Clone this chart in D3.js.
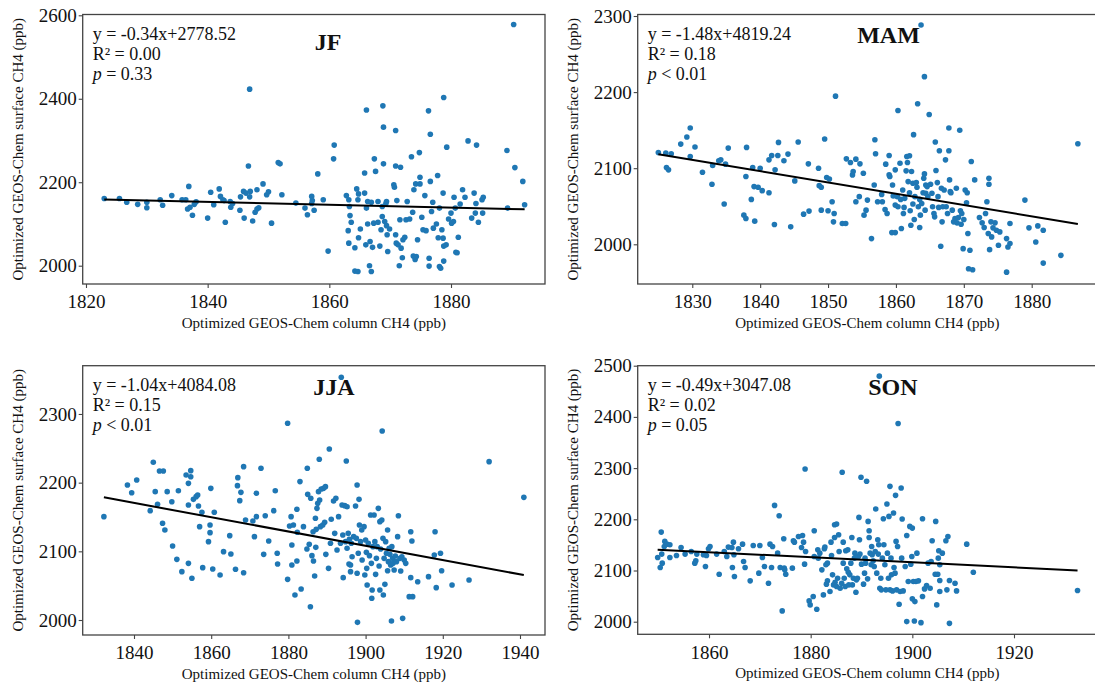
<!DOCTYPE html>
<html lang="en">
 <head>
 <meta http-equiv="Content-Type" content="text/html; charset=UTF-8">
        <title>Optimized GEOS-Chem surface vs column CH4</title>
        <script type="text/javascript" src="https://unpkg.com/d3@7/dist/d3.min.js"></script>
        <style>
          body { margin: 0; background: #fff; }
          text { font-family: "Liberation Serif", "Times New Roman", serif; fill: #111; }
        </style>
 </head>
 <body>
        <script type="text/javascript">

          var seasons = ["JF", "MAM", "JJA", "SON"];
          var slopes = [-0.34, -1.48, -1.04, -0.49];
          var intercepts = [2778.52, 4819.24, 4084.08, 3047.08];
          var r2Labels = ["0.00", "0.18", "0.15", "0.02"];
          var pLabels = [" = 0.33", " < 0.01", " < 0.01", " = 0.05"];

          var xTicks = [
            [1820, 1840, 1860, 1880],
            [1830, 1840, 1850, 1860, 1870, 1880],
            [1840, 1860, 1880, 1900, 1920, 1940],
            [1860, 1880, 1900, 1920]
          ];
          var yTicks = [
            [2000, 2200, 2400, 2600],
            [2000, 2100, 2200, 2300],
            [2000, 2100, 2200, 2300],
            [2000, 2100, 2200, 2300, 2400, 2500]
          ];

          var jfPoints = [
            [1823.0,2161],[1825.5,2161],[1826.7,2152],[1828.5,2147],[1830,2152],[1830,2139],[1832.2,2158],[1832.6,2145],
            [1834.1,2168],[1835.8,2158],[1836.4,2158],[1836.9,2190],[1836.7,2136],[1837.1,2140],[1837.5,2121],[1838.1,2153],
            [1837.8,2147],[1840,2114],[1840.5,2176],[1841,2146],[1841.9,2184],[1842.1,2166],[1842.5,2158],[1842.9,2104],
            [1842.7,2156],[1843.7,2154],[1843.8,2140],[1844.1,2149],[1845.3,2133],[1845.4,2165],[1845.9,2178],[1846,2114],
            [1846.3,2174],[1846.7,2239],[1846.9,2423],[1846.9,2165],[1847,2178],[1847.4,2107],[1847.8,2128],[1848.1,2136],
            [1848.4,2139],[1848.1,2182],[1849.1,2196],[1849.7,2170],[1850,2177],[1850.5,2102],[1851.6,2247],[1851.9,2244],
            [1852.2,2170],[1854.5,2150],[1856,2138],[1856.4,2122],[1857.1,2166],[1857.2,2156],[1857.1,2149],[1857.5,2133],
            [1858.1,2220],[1859,2158],[1859.8,2035],[1860.8,2289],[1860.7,2256],[1862.8,2168],[1863.2,2158],[1863.3,2142],
            [1863.4,2120],[1863.1,2084],[1863.2,2054],[1863.6,2104],[1864.2,2043],[1864.2,1987],[1864.7,1986],[1864.5,2184],
            [1864.7,2158],[1864.8,2067],[1865.1,2088],[1864.8,2172],[1865.8,2174],[1865.8,2222],[1866.1,2373],[1866.1,2138],
            [1866.3,2154],[1866.3,2100],[1866,2050],[1866.7,2058],[1866.6,2000],[1866.9,1986],[1866.9,2152],[1867.1,2044],
            [1867.4,2256],[1867.6,2226],[1867.3,2102],[1868,2104],[1868,2154],[1868.3,2047],[1868.5,2086],[1868.7,2142],
            [1868.7,2118],[1868.8,2383],[1868.9,2332],[1868.9,2244],[1869.1,2106],[1869.4,2154],[1869.4,2096],[1869.6,2034],
            [1869.5,2074],[1869.3,2149],[1869.9,2088],[1870.6,2194],[1870.7,2188],[1870.9,2324],[1870.9,2239],[1871.1,2156],
            [1870.9,2074],[1871,2054],[1871.3,2050],[1871.5,2000],[1871.7,2236],[1871.6,2110],[1871.8,2042],[1872,2019],
            [1872.1,2062],[1872.4,2068],[1872.6,2110],[1872.8,2154],[1873.2,2112],[1873.5,2261],[1873.7,2128],[1873.8,2023],
            [1874.1,2015],[1874.3,2022],[1873.9,2182],[1874.2,2196],[1874.8,2271],[1874.9,2196],[1874.9,2212],[1874.5,2062],
            [1875.2,2116],[1875.4,2086],[1875.7,2168],[1875.9,2084],[1876.3,2371],[1876.4,2018],[1876.4,1999],[1876.6,2315],
            [1876.6,2202],[1876.8,2130],[1877,2152],[1877.1,2090],[1877.6,2100],[1877.8,2216],[1877.9,2067],[1878.1,2138],
            [1878.1,1998],[1878.3,1994],[1878.5,2086],[1878.7,2174],[1878.8,2047],[1878.8,2403],[1878.8,2011],[1878.7,2066],
            [1879.3,2284],[1879.2,2050],[1879.6,2112],[1880,2126],[1880.1,2102],[1880.4,2106],[1880.5,2164],[1880.7,2138],
            [1880.8,2032],[1881,2031],[1881.2,2068],[1881.5,2148],[1881.9,2182],[1882.3,2164],[1882.8,2299],[1883.4,2114],
            [1883.8,2174],[1884,2126],[1884.2,2289],[1884.1,2149],[1884.5,2104],[1885.1,2158],[1885.3,2164],[1885.2,2126],
            [1889.2,2276],[1889.3,2138],[1890.3,2578],[1890.5,2235],[1891.8,2202],[1892.1,2146]
          ];

          var mamPoints = [
            [1825,2120.7],[1826.1,2119.8],[1826.2,2100.9],[1826.5,2097.8],[1826.9,2118.9],[1828.3,2131.7],[1829.2,2141],
            [1829.7,2152.9],[1829.7,2115.4],[1830.4,2127.8],[1831.5,2094.7],[1832.9,2078.9],[1833,2103.5],[1833.9,2109.7],
            [1834.2,2111],[1834.7,2052.9],[1834.9,2105.3],[1835.3,2126.4],[1837.6,2038.3],[1837.9,2033.9],[1837.9,2089],
            [1838,2127.3],[1838.7,2059],[1838.9,2100.9],[1839.1,2075.8],[1839.2,2030.4],[1839.7,2074.9],[1840,2100],
            [1840.3,2070.5],[1841.3,2067.8],[1841.3,2111],[1841.7,2116.7],[1842.1,2026],[1842.2,2097.8],[1842.6,2116.7],
            [1842.7,2133.9],[1843.5,2109.7],[1844.1,2118.5],[1844.5,2022.9],[1845.1,2083.3],[1845.6,2134.4],[1846.4,2039.6],
            [1847.1,2105.7],[1847.2,2043.6],[1848.6,2100],[1848.7,2077.1],[1849,2074.9],[1849,2044.9],[1849.5,2138.3],
            [1849.8,2087.7],[1850,2044],[1850.2,2085.9],[1850.6,2055.9],[1850.9,2040.5],[1850.8,2029.5],[1851.1,2194.7],
            [1852.1,2027.3],[1852.6,2027.3],[1852.7,2112.3],[1853.3,2107.5],[1853.6,2091.2],[1853.7,2095.6],[1854.1,2111.9],
            [1854.1,2055.9],[1854.6,2062.6],[1854.7,2105.7],[1855.2,2093.4],[1855.3,2038.3],[1855.6,2044.9],[1855.8,2058.1],
            [1856.4,2007.5],[1856.8,2078],[1856.9,2137.4],[1857,2118.9],[1857.3,2055.9],[1857.9,2065.6],[1858,2055.9],
            [1858.4,2045.8],[1858.5,2105.3],[1858.7,2040.5],[1859,2116.7],[1859,2091.2],[1859.1,2089],[1859.4,2015.4],
            [1859.5,2078],[1859.6,2063.4],[1859.9,2051.5],[1859.9,2015.4],[1859.9,2097.8],[1860.2,2062.6],[1860.3,2175.8],
            [1860.3,2049.3],[1860.6,2106.6],[1860.7,2059],[1860.8,2020.7],[1861,2071.4],[1861.1,2040.5],[1861.2,2048.5],
            [1861.3,2060.4],[1861.5,2096.5],[1861.6,2115.4],[1861.7,2107.5],[1861.8,2082.4],[1862,2116.3],[1862,2067.8],
            [1862.1,2044.1],[1862.2,2025.1],[1862.3,2095.6],[1862.5,2080.2],[1862.5,2052.9],[1862.6,2144.1],[1862.7,2032.6],
            [1862.8,2062.6],[1863,2081.1],[1863.1,2074.9],[1863.2,2184.6],[1863.3,2049.3],[1863.5,2059],[1863.5,2022],
            [1863.6,2038.3],[1863.7,2288.1],[1863.8,2053.7],[1864,2067.8],[1864.1,2086.8],[1864.2,2220.3],[1864.2,2092.5],
            [1864.3,2044.9],[1864.4,2078],[1864.4,2067],[1864.6,2075.8],[1864.7,2062.6],[1864.9,2170.5],[1865.1,2078.9],
            [1865.3,2067],[1865.4,2049.3],[1865.6,2040.5],[1865.7,2036.1],[1865.8,2134.4],[1865.9,2096.9],[1866.1,2081.1],
            [1866.2,2062.6],[1866.3,2048.5],[1866.4,2122.9],[1866.6,1997.4],[1866.7,2073.6],[1866.8,2029.5],[1866.9,2049.3],
            [1867.1,2071.4],[1867.3,2111],[1867.4,2049.3],[1867.6,2040.5],[1867.8,2152.9],[1867.8,2122.9],[1867.9,2084.6],
            [1868,2069.2],[1868.1,2067.8],[1868.3,2044.9],[1868.5,2029.5],[1868.7,2033.9],[1868.9,2073.6],[1869,2028.2],
            [1869.2,2035.2],[1869.4,2149.8],[1869.5,2044.1],[1869.6,2026.4],[1869.7,2040.5],[1869.9,1994.3],[1870,2032.6],
            [1870.2,2071.4],[1870.4,2054.6],[1870.5,2067.8],[1870.6,2014.1],[1870.7,1967.8],[1870.9,1992.1],[1871.1,2108.8],
            [1871.3,1966.5],[1871.6,2084.6],[1872.3,2035.2],[1872.7,2028.2],[1873,2022],[1873.2,2040.5],[1873.4,2055.9],
            [1873.6,2014.1],[1873.7,2086.8],[1873.7,2078.9],[1873.8,1993],[1874,2029.5],[1874.1,2009.7],[1874.3,2021.6],
            [1874.6,2028.2],[1874.8,2018.5],[1875.1,1998.7],[1875.3,2016.3],[1876.3,2007.5],[1876.5,1996.5],[1876.3,1963.4],
            [1876.8,2027.3],[1876.8,2000.9],[1879,2058.1],[1879.6,2021.6],[1880.6,2003.1],[1880.9,2024.2],[1881.7,2018.5],
            [1881.7,1975.3],[1884.3,1985.5],[1886.8,2132.2]
          ];

          var jjaPoints = [
            [1832.2,2150.5],[1838.3,2196.6],[1839.4,2185.4],[1840.7,2203.9],[1844.2,2159.2],[1845,2229.6],[1845.5,2186.9],
            [1846.1,2168.4],[1846.6,2217],[1847.6,2217],[1847.4,2140.8],[1848,2131.1],[1848.6,2186.9],[1849.8,2172.3],
            [1850,2107.8],[1851.1,2088.3],[1851.5,2188.3],[1852.4,2070.4],[1853.5,2211.2],[1854.1,2199],[1854.1,2167.5],
            [1854.1,2082.5],[1854.7,2217.5],[1854.7,2208.7],[1855,2060.7],[1855.4,2175.7],[1856.1,2179.6],[1856.5,2182],
            [1856.7,2166],[1857,2135.9],[1857.6,2156.8],[1857.8,2076.2],[1859.3,2114.1],[1859.7,2127.2],[1859.7,2138.3],
            [1859.9,2191.7],[1860.4,2074.3],[1860.8,2156.8],[1862.3,2065.5],[1863.2,2099.5],[1864.8,2122.8],[1865.1,2096.1],
            [1866.3,2073.8],[1866.8,2195.6],[1866.9,2207.3],[1867.4,2173.8],[1867.7,2185.9],[1868.4,2068.9],[1868.4,2223.3],
            [1868.9,2145.6],[1870.8,2144.2],[1871.2,2121.4],[1871.7,2184.5],[1871.7,2150.5],[1872.9,2220.9],[1873.6,2095.6],
            [1874,2151.9],[1874.9,2115],[1876.2,2159.2],[1876.6,2188.3],[1877.1,2097.1],[1877.2,2081.6],[1879.8,2286.4],
            [1879.8,2059.2],[1880.3,2136.9],[1880.7,2150.5],[1880.9,2109.2],[1880.9,2080.1],[1881.3,2138.3],[1881.7,2036.4],
            [1882.2,2161.2],[1882.2,2085.9],[1882.3,2127.7],[1883,2201.5],[1883.3,2045.1],[1883.9,2135.9],[1884.8,2103.4],
            [1884.9,2220.9],[1885,2183],[1885.4,2110.2],[1885.7,2019.4],[1885.8,2177.2],[1886.1,2093.7],[1886.4,2128.6],
            [1886.5,2085.9],[1886.8,2064.1],[1887,2148.1],[1887.1,2105.8],[1887.2,2132],[1887.4,2162.6],[1887.6,2169.9],
            [1887.8,2186.9],[1888,2234],[1888.1,2174.8],[1888.3,2135.9],[1888.5,2190.8],[1888.9,2138.3],[1889.1,2191.7],
            [1889.4,2142.2],[1889.6,2194.2],[1889.7,2095.6],[1890.4,2075.2],[1890.6,2249],[1890.9,2111.7],[1891.1,2146.6],
            [1891.7,2173.3],[1892,2126.2],[1892.3,2177.2],[1892.6,2101.9],[1893,2150.5],[1893.5,2111.7],[1893.7,2353.4],
            [1893.9,2167.5],[1894.1,2123.8],[1894.2,2061.7],[1894.6,2166.5],[1894.8,2114.1],[1895,2231.6],[1895.2,2165],
            [1895.2,2104.4],[1895.5,2126.2],[1895.7,2081.6],[1895.8,2117.5],[1896.1,2080.1],[1896.1,2070.4],[1896.3,2111.7],
            [1896.5,2092.2],[1896.9,2121.4],[1897.4,2166],[1897.6,2118.9],[1897.8,2196.6],[1897.8,2068],[1897.9,1996.6],
            [1898.1,2097.1],[1898.3,2175.7],[1898.4,2138.3],[1898.7,2114.1],[1899,2131.1],[1899.1,2087.4],[1899.6,2135.9],
            [1899.8,2065.5],[1900,2116.5],[1900.2,2098.5],[1900.3,2075.2],[1900.4,2051],[1900.7,2111.7],[1901,2093.7],
            [1901.3,2152.9],[1901.5,2082.5],[1901.6,2031.6],[1901.7,2043.7],[1901.9,2106.8],[1902.2,2152.9],[1902.4,2114.1],
            [1902.6,2066.5],[1902.8,2089.8],[1903,2106.8],[1903.3,2162.6],[1903.5,2078.6],[1903.7,2043.7],[1903.7,2143.2],
            [1903.9,2103.4],[1904.2,2145.6],[1904.3,2275.2],[1904.5,2118.9],[1904.6,2036.4],[1904.8,2089.8],[1905,2051.9],
            [1905.2,2114.1],[1905.4,2097.1],[1905.7,2131.1],[1905.7,2071.8],[1905.9,2085],[1906.1,2104.4],[1906.3,2095.6],
            [1906.5,2080.1],[1906.7,1998.5],[1906.8,2106.8],[1907,2089.8],[1907.1,2082.5],[1907.4,2072.8],[1907.7,2093.2],
            [1908,2085],[1908.3,2121.4],[1908.5,2151.9],[1908.9,2089.8],[1909.1,2071.4],[1909.4,2092.2],[1909.6,2002.4],
            [1910,2087.4],[1910.4,2082.5],[1911.3,2034],[1911.7,2061.7],[1911.7,2128.6],[1912,2115],[1912.2,2034],
            [1913.5,2055.8],[1916.3,2063.1],[1917.8,2094.7],[1918,2128.6],[1918.3,2047.1],[1919.4,2097.1],[1919.7,2071.8],
            [1922.4,2051],[1926.8,2058.3],[1932,2230.6],[1941,2178.6]
          ];

          var sonPoints = [
            [1849.9,2125.4],[1850.4,2105.9],[1850.6,2175],[1850.7,2132],[1850.8,2114.4],[1851.2,2147],[1851.3,2156.8],
            [1851.7,2151.5],[1852.3,2150.2],[1852.3,2125.4],[1853.6,2129.4],[1854.5,2145],[1855.3,2132],[1856.5,2137.2],
            [1857.2,2114.4],[1857.4,2118.9],[1857.6,2132],[1858.9,2130.7],[1859.3,2107.8],[1859.5,2129.4],[1859.9,2142.4],
            [1860.2,2147],[1861.5,2132],[1862,2092.8],[1863,2137.2],[1863.5,2127.4],[1863.8,2145.7],[1864.5,2145],
            [1864.6,2105.9],[1864.8,2155.4],[1864.9,2130.7],[1865,2088.3],[1865.8,2142.4],[1866.6,2151.5],[1866.8,2117.6],
            [1867.1,2105.9],[1868.1,2079.8],[1868.7,2148.9],[1869.8,2094.8],[1870,2148.9],[1870.5,2125.4],[1870.9,2107.8],
            [1871.7,2075.2],[1872,2151.5],[1872.3,2105.9],[1872.5,2147],[1872.9,2227.2],[1873.5,2133.9],[1873.8,2207],
            [1874,2105.9],[1874.4,2021.1],[1874.7,2162],[1874.8,2104.6],[1874.9,2101.3],[1875.1,2092.8],[1876.4,2104.6],
            [1876.6,2158.1],[1876.8,2155.4],[1877.6,2166.5],[1878.2,2145],[1878.4,2168.5],[1878.6,2155.4],[1878.8,2112.4],
            [1878.9,2298.3],[1879,2137.2],[1879.7,2040.6],[1879.9,2032.8],[1880.5,2049.1],[1880.7,2177.6],[1880.7,2127.4],
            [1881.2,2024.3],[1881.4,2140.4],[1881.5,2124.1],[1881.8,2133.9],[1882.2,2101.3],[1882.5,2052.4],[1882.7,2142.4],
            [1882.8,2145.7],[1883,2111.1],[1883.3,2079.8],[1883.8,2058.9],[1884,2155.4],[1884.5,2071.9],[1884.7,2189.4],
            [1883.1,2073.3],[1883.3,2114.4],[1884.1,2129.4],[1884.3,2091.5],[1884.7,2164.6],[1884.8,2077.2],[1885.1,2190.7],
            [1885.1,2068.7],[1885.3,2085],[1885.5,2169.8],[1885.6,2137.2],[1885.8,2065.4],[1886.1,2075.2],[1886.2,2291.8],
            [1886.4,2114.4],[1886.4,2155.4],[1886.6,2085],[1886.8,2068.7],[1886.9,2138.5],[1887.1,2103.3],[1887.3,2140.4],
            [1887.4,2096.7],[1887.5,2071.9],[1887.7,2091.5],[1887.9,2114.4],[1888.1,2164.6],[1888.2,2071.9],[1888.4,2085],
            [1888.6,2124.1],[1888.7,2133.9],[1888.9,2057.6],[1889,2081.7],[1889.2,2085],[1889.4,2127.4],[1889.5,2203.7],
            [1889.6,2160],[1889.7,2132],[1889.9,2282],[1890,2112.4],[1890.4,2073.3],[1890.6,2094.8],[1890.7,2124.1],
            [1890.8,2114.4],[1891,2274.2],[1891.2,2083.7],[1891.3,2195.9],[1891.5,2164.6],[1891.5,2177.6],[1891.7,2133.9],
            [1891.9,2111.1],[1892,2147],[1892.1,2130.7],[1892.3,2118.9],[1892.5,2107.8],[1892.7,2137.2],[1892.8,2220],
            [1893,2094.8],[1893.2,2160],[1893.3,2132],[1893.4,2150.2],[1893.5,2479.6],[1893.6,2065.4],[1893.8,2085],
            [1893.9,2062.2],[1894.1,2124.1],[1894.3,2201.1],[1894.4,2150.2],[1894.6,2111.1],[1894.8,2062.2],[1895,2229.8],
            [1895.1,2133.9],[1895.3,2085],[1895.4,2205.7],[1895.6,2264.4],[1895.6,2062.2],[1895.8,2124.1],[1895.9,2091.5],
            [1896.1,2060.2],[1896.3,2212.2],[1896.4,2105.9],[1896.6,2094.8],[1896.7,2246.8],[1896.8,2156.8],[1896.9,2062.2],
            [1897.1,2147],[1897.2,2387],[1897.4,2034.1],[1897.6,2058.9],[1897.8,2261.1],[1897.9,2124.1],[1898,2200.5],
            [1898.2,2060.2],[1898.6,2107.8],[1898.9,2168.5],[1898.9,2000.2],[1899.2,2078.5],[1899.5,2186.1],[1899.7,2112.4],
            [1899.9,2127.4],[1900,2182.8],[1900,2044.6],[1900.2,2078.5],[1900.4,2001.5],[1900.5,2039.3],[1900.7,2078.5],
            [1900.9,2133.9],[1901.2,2079.8],[1901.7,1998.2],[1902,2201.1],[1902,2049.1],[1902.4,2064.1],[1902.8,2070.6],
            [1903.1,2114.4],[1903.5,2065.4],[1903.7,2117.6],[1903.9,2158.1],[1904.5,2092.8],[1904.6,2195.9],[1904.8,2032.8],
            [1905,2092.8],[1905.1,2124.1],[1905.2,2138.5],[1905.4,2111.1],[1905.4,2058.9],[1905.4,2080.5],[1905.9,2133.9],
            [1906.6,2158.1],[1906.8,2062.2],[1907,2166.5],[1907.3,1996.8],[1907.3,2080.5],[1908.4,2075.2],[1908.7,2060.2],
            [1910.7,2151.5],[1912,2096.7],[1932.5,2060.9]
          ];

          var allPoints = [jfPoints, mamPoints, jjaPoints, sonPoints];

          // frame boxes in pixels and the axis ranges
          var panels = [
            { left: 82.7, top: 14.5, width: 462.3, height: 269.5, xDomain: [1819.46, 1895.45], yDomain: [1956.15, 2601.9], titleAt: [232, 35.5] },
            { left: 637.7, top: 14.5, width: 459.3, height: 269.5, xDomain: [1821.96, 1889.62], yDomain: [1947.83, 2301.97], titleAt: [219.5, 28.5] },
            { left: 82.7, top: 365.7, width: 462.3, height: 269.3, xDomain: [1826.71, 1946.48], yDomain: [1978.16, 2370.3], titleAt: [230.6, 29.3] },
            { left: 637.7, top: 365.7, width: 459.3, height: 268.6, xDomain: [1845.97, 1936.33], yDomain: [1975.4, 2500], titleAt: [230.5, 29.3] }
          ];

          var svg = d3.select("body")
                      .append("svg")
                      .attr("width", 1095)
                      .attr("height", 686)
                      .style("display", "block");

          svg.append("rect").attr("width", 1095).attr("height", 686).attr("fill", "#fff");

          panels.forEach(function(p, i) {
            var g = svg.append("g")
                       .attr("transform", "translate(" + p.left + "," + p.top + ")");

            var x = d3.scaleLinear().domain(p.xDomain).range([0, p.width]);
            var y = d3.scaleLinear().domain(p.yDomain).range([p.height, 0]);

            var xAxis = g.append("g")
                         .attr("transform", "translate(0," + p.height + ")")
                         .call(d3.axisBottom(x).tickValues(xTicks[i]).tickFormat(d3.format("d")).tickSize(4).tickPadding(7));
            var yAxis = g.append("g")
                         .call(d3.axisLeft(y).tickValues(yTicks[i]).tickFormat(d3.format("d")).tickSize(4).tickPadding(2));

            [xAxis, yAxis].forEach(function(a) {
              a.select(".domain").remove();
              a.selectAll("line").attr("stroke", "#444").attr("stroke-width", 1.1);
              a.selectAll("text").attr("font-size", 19).attr("fill", "#111")
               .style("font-family", "'Liberation Serif', 'Times New Roman', serif");
            });

            g.append("rect")
             .attr("width", p.width)
             .attr("height", p.height)
             .attr("fill", "none")
             .attr("stroke", "#444")
             .attr("stroke-width", 1.3);

            g.selectAll("circle")
             .data(allPoints[i])
             .enter()
             .append("circle")
             .attr("cx", (d) => x(d[0]))
             .attr("cy", (d) => y(d[1]))
             .attr("r", 2.8)
             .attr("fill", "#1f77b4");

            var xs = d3.extent(allPoints[i], (d) => d[0]);
            var fit = xs.map((v) => [v, slopes[i] * v + intercepts[i]]);
            g.append("path")
             .datum(fit)
             .attr("d", d3.line().x((d) => x(d[0])).y((d) => y(d[1])))
             .attr("fill", "none")
             .attr("stroke", "#000")
             .attr("stroke-width", 2);

            var sign = intercepts[i] >= 0 ? "+" : "";
            var stats = g.append("g").attr("font-size", 18);
            stats.append("text").attr("x", 10).attr("y", 25.5)
                 .text("y = " + slopes[i].toFixed(2) + "x" + sign + intercepts[i].toFixed(2));
            stats.append("text").attr("x", 10).attr("y", 45.5)
                 .text("R\u00b2 = " + r2Labels[i]);
            var pt = stats.append("text").attr("x", 10).attr("y", 65.5);
            pt.append("tspan").attr("font-style", "italic").text("p");
            pt.append("tspan").text(pLabels[i]);

            g.append("text")
             .attr("x", p.titleAt[0])
             .attr("y", p.titleAt[1])
             .attr("font-size", 24)
             .attr("font-weight", "bold")
             .attr("fill", "#000")
             .text(seasons[i]);

            g.append("text")
             .attr("x", p.width / 2)
             .attr("y", p.height + 44)
             .attr("text-anchor", "middle")
             .attr("font-size", 15)
             .text("Optimized GEOS-Chem column CH4 (ppb)");

            g.append("text")
             .attr("transform", "translate(-64.7," + (p.height / 2) + ") rotate(-90)")
             .attr("text-anchor", "middle")
             .attr("dy", "0.35em")
             .attr("font-size", 15)
             .text("Optimized GEOS-Chem surface CH4 (ppb)");
          });

        </script>
    </body>
</html>
